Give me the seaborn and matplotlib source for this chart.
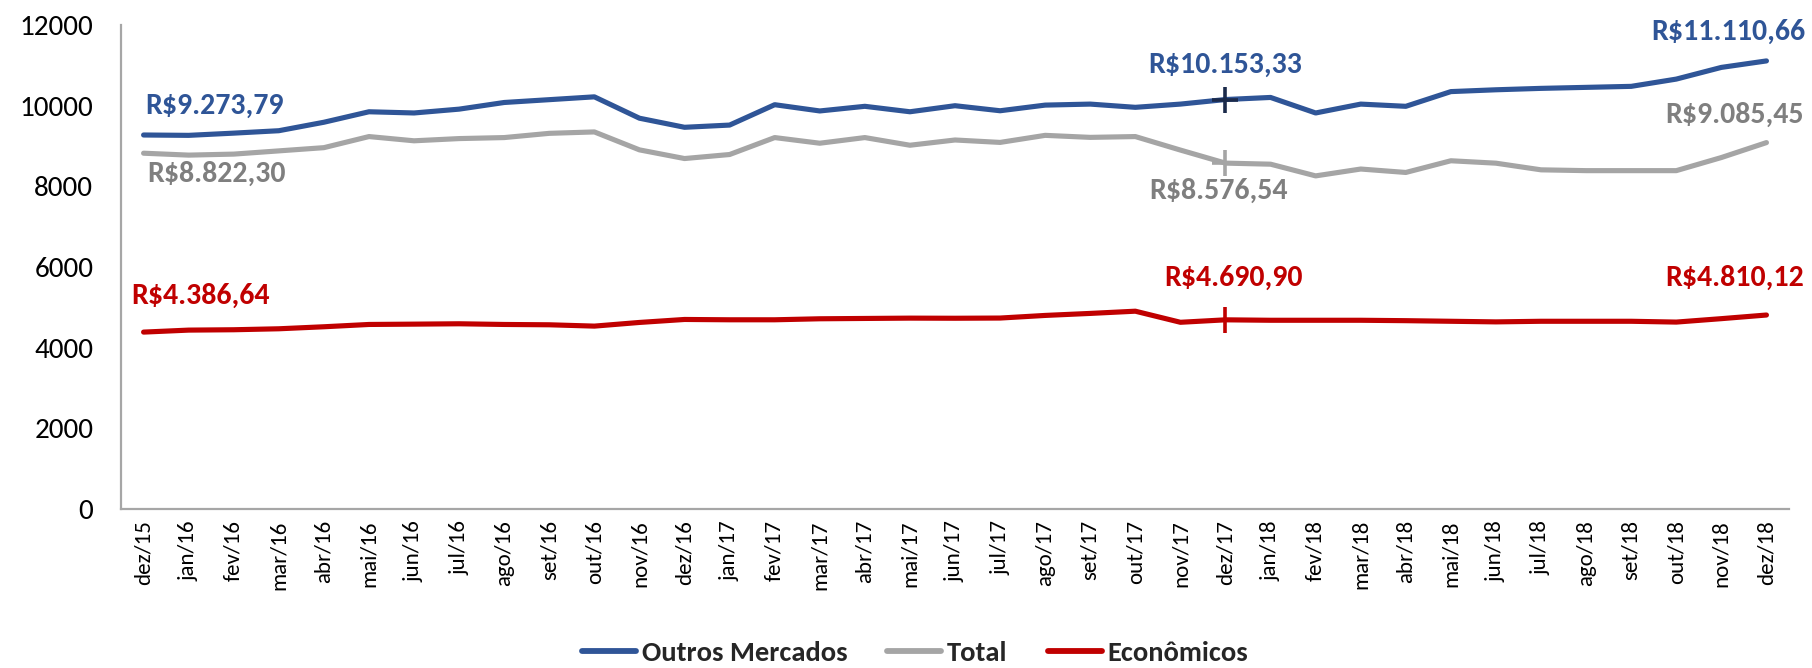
import matplotlib
matplotlib.use("Agg")
import matplotlib.pyplot as plt
from matplotlib import font_manager
import seaborn as sns
import pandas as pd

# Monthly average values (R$) per segment
meses = ["dez/15", "jan/16", "fev/16", "mar/16", "abr/16", "mai/16", "jun/16", "jul/16",
         "ago/16", "set/16", "out/16", "nov/16", "dez/16", "jan/17", "fev/17", "mar/17",
         "abr/17", "mai/17", "jun/17", "jul/17", "ago/17", "set/17", "out/17", "nov/17",
         "dez/17", "jan/18", "fev/18", "mar/18", "abr/18", "mai/18", "jun/18", "jul/18",
         "ago/18", "set/18", "out/18", "nov/18", "dez/18"]

outros_mercados = [9273.79, 9265, 9320, 9380, 9590, 9850, 9820, 9915, 10080, 10150,
                   10220, 9690, 9465, 9520, 10025, 9870, 9985, 9850, 10000, 9875,
                   10015, 10040, 9960, 10040, 10153.33, 10205, 9820, 10040, 9985, 10350,
                   10395, 10430, 10455, 10480, 10660, 10950, 11110.66]

total = [8822.30, 8775, 8800, 8880, 8960, 9235, 9130, 9185, 9210, 9315,
         9350, 8905, 8690, 8790, 9210, 9070, 9210, 9020, 9150, 9090,
         9265, 9215, 9235, 8900, 8576.54, 8550, 8260, 8430, 8345, 8635,
         8575, 8410, 8390, 8390, 8390, 8715, 9085.45]

economicos = [4386.64, 4436, 4445, 4469, 4519, 4576, 4584, 4593, 4576, 4568,
              4535, 4626, 4700, 4692, 4692, 4717, 4725, 4733, 4730, 4735,
              4800, 4850, 4905, 4630, 4690.90, 4680, 4680, 4680, 4670, 4655,
              4640, 4655, 4655, 4655, 4635, 4720, 4810.12]

series_names = ["Outros Mercados", "Total", "Econômicos"]
line_colors = {"Outros Mercados": "#2F5597", "Total": "#A5A5A5", "Econômicos": "#C00000"}
label_colors = {"Outros Mercados": "#2F5597", "Total": "#7F7F7F", "Econômicos": "#C00000"}
marker_colors = {"Outros Mercados": "#1B2A4A", "Total": "#A5A5A5", "Econômicos": "#C00000"}

df = pd.concat([
    pd.DataFrame({"mes": meses, "valor": vals, "serie": name})
    for name, vals in zip(series_names, [outros_mercados, total, economicos])
], ignore_index=True)

sns.set_theme(style="white")
available = {f.name for f in font_manager.fontManager.ttflist}
base_font = next((f for f in ["Carlito", "Liberation Sans Narrow", "Roboto Condensed", "Lato"]
                  if f in available), "Liberation Sans")
plt.rcParams["font.family"] = [base_font, "DejaVu Sans"]

fig = plt.figure(figsize=(18.12, 6.68), dpi=100)
ax = fig.add_axes([0.0668, 0.238, 0.9205, 0.7245])

sns.lineplot(data=df, x="mes", y="valor", hue="serie", hue_order=series_names,
             palette=line_colors, linewidth=3.7, sort=False, ax=ax, legend=True,
             solid_capstyle="round", solid_joinstyle="round")

# cross markers on dez/17
mark_idx = meses.index("dez/17")
for name, vals in zip(series_names, [outros_mercados, total, economicos]):
    ax.plot([meses[mark_idx]], [vals[mark_idx]], marker="+", markersize=19,
            markeredgewidth=2.6, color=marker_colors[name], linestyle="none", zorder=5)


def fmt_brl(v):
    s = f"{v:,.2f}"
    return "R$" + s.replace(",", "X").replace(".", ",").replace("X", ".")


# value labels: (series, index, dx pt, dy pt, ha)
annotations = [
    ("Outros Mercados", 0, 1, 21, "left"),
    ("Total", 0, 3, -15, "left"),
    ("Outros Mercados", 24, 0, 25, "center"),
    ("Total", 24, -5, -20, "center"),
    ("Outros Mercados", 36, 28, 21, "right"),
    ("Total", 36, 27, 20, "right"),
    ("Econômicos", 0, -9, 26, "left"),
    ("Econômicos", 24, 6, 30, "center"),
    ("Econômicos", 36, 27, 27, "right"),
]
data_map = dict(zip(series_names, [outros_mercados, total, economicos]))
for name, i, dx, dy, ha in annotations:
    v = data_map[name][i]
    ax.annotate(fmt_brl(v), xy=(meses[i], v), xytext=(dx, dy), textcoords="offset points",
                ha=ha, va="center", fontsize=21.5, fontweight="bold",
                color=label_colors[name])

ax.set_ylim(0, 12000)
ax.set_xlim(-0.5, len(meses) - 0.5)
ax.set_yticks(range(0, 12001, 2000))
ax.set_yticklabels([str(t) for t in range(0, 12001, 2000)])
ax.set_xlabel("")
ax.set_ylabel("")
ax.tick_params(axis="y", length=0, pad=20, labelsize=21, colors="#000000")
ax.tick_params(axis="x", length=0, pad=8, labelsize=16.5, colors="#000000", labelrotation=90)

for side in ["top", "right"]:
    ax.spines[side].set_visible(False)
for side in ["left", "bottom"]:
    ax.spines[side].set_color("#A6A6A6")
    ax.spines[side].set_linewidth(1.6)

handles, labels = ax.get_legend_handles_labels()
ax.legend_.remove()
leg = fig.legend(handles, labels, loc="center", bbox_to_anchor=(0.505, 0.022), ncol=3,
                 frameon=False, handlelength=1.9, handletextpad=0.2, columnspacing=1.4,
                 prop={"size": 20.5, "weight": "bold"})
for h in leg.get_lines():
    h.set_linewidth(4.2)
    h.set_solid_capstyle("round")

fig.savefig("out.png", dpi=100)
